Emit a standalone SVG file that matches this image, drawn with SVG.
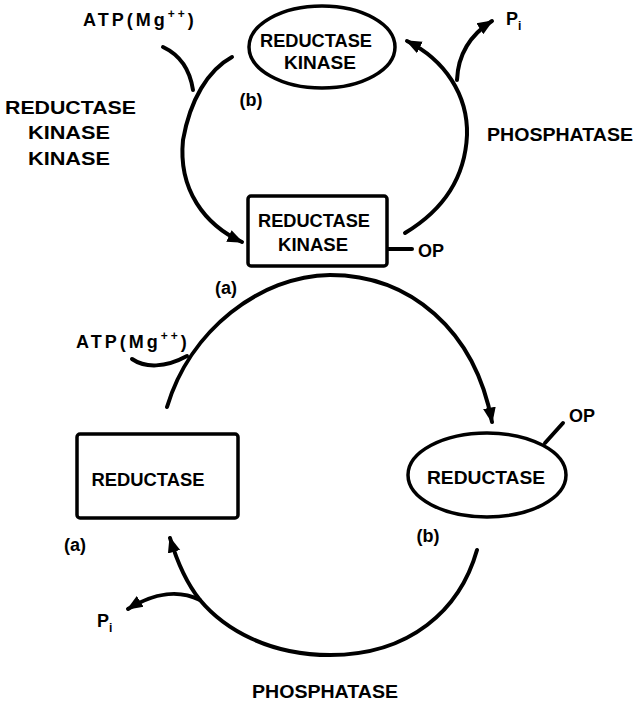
<svg xmlns="http://www.w3.org/2000/svg" width="639" height="703" viewBox="0 0 639 703">
<style>
.t{font-family:"Liberation Sans",Arial,sans-serif;font-weight:bold;font-size:18px;fill:#000}
.n{fill:#fff;stroke:#000;stroke-width:3.5}
.c{fill:none;stroke:#000;stroke-width:4;stroke-linecap:round}
</style>
<defs>
<marker id="ah" viewBox="0 0 10 10" refX="9" refY="5" markerWidth="4" markerHeight="4" orient="auto" markerUnits="strokeWidth">
<path d="M0,1 L10,5 L0,9 z" fill="#000"/>
</marker>
</defs>
<rect width="639" height="703" fill="#fff"/>
<g id="connectors">
<path class="c" d="M232,57 C208,70 190,100 183,140 C178,190 205,225 242,242" marker-end="url(#ah)"/>
<path class="c" d="M163,47 C180,55 190,70 193,90"/>
<path class="c" d="M405,233 C440,212 465,180 467,135 C468,95 445,60 407,41" marker-end="url(#ah)"/>
<path class="c" d="M457,80 C458,55 470,35 492,21" marker-end="url(#ah)"/>
<path class="c" d="M167,407 C190,330 260,276 330,275 C410,275 475,330 492,422" marker-end="url(#ah)"/>
<path class="c" d="M132,359 C145,368 165,368 187,356"/>
<path class="c" d="M477,550 C460,610 410,655 330,655 C270,655 225,630 200,600 C188,585 178,565 170,538" marker-end="url(#ah)"/>
<path class="c" d="M200,600 C180,590 155,592 128,609" marker-end="url(#ah)"/>
<line class="c" x1="387" y1="249" x2="412" y2="249"/>
<line class="c" x1="545" y1="443" x2="563" y2="423"/>
</g>
<g id="reductase-kinase-b">
<ellipse class="n" cx="322" cy="47" rx="73" ry="41"/>
<text class="t" x="316" y="47" text-anchor="middle" textLength="112" lengthAdjust="spacingAndGlyphs">REDUCTASE</text>
<text class="t" x="320" y="69" text-anchor="middle" textLength="72" lengthAdjust="spacingAndGlyphs">KINASE</text>
</g>
<g id="reductase-kinase-a">
<rect class="n" x="248" y="196" width="139" height="70" rx="3"/>
<text class="t" x="314" y="227" text-anchor="middle" textLength="112" lengthAdjust="spacingAndGlyphs">REDUCTASE</text>
<text class="t" x="313" y="251" text-anchor="middle" textLength="70" lengthAdjust="spacingAndGlyphs">KINASE</text>
</g>
<g id="reductase-a">
<rect class="n" x="77" y="434" width="161" height="84" rx="3"/>
<text class="t" x="148" y="486" text-anchor="middle" textLength="113" lengthAdjust="spacingAndGlyphs">REDUCTASE</text>
</g>
<g id="reductase-b">
<ellipse class="n" cx="487" cy="475" rx="79" ry="42"/>
<text class="t" x="486" y="484" text-anchor="middle" textLength="118" lengthAdjust="spacingAndGlyphs">REDUCTASE</text>
</g>
<g id="labels">
<text class="t" x="83" y="26" font-size="21" letter-spacing="3">ATP(Mg<tspan font-size="12" dy="-8">++</tspan><tspan dy="8">)</tspan></text>
<text class="t" x="251" y="106" text-anchor="middle" font-size="21">(b)</text>
<text class="t" x="5" y="114" textLength="131" lengthAdjust="spacingAndGlyphs" font-size="20">REDUCTASE</text>
<text class="t" x="28" y="139" textLength="82" lengthAdjust="spacingAndGlyphs" font-size="20">KINASE</text>
<text class="t" x="28" y="165" textLength="82" lengthAdjust="spacingAndGlyphs" font-size="20">KINASE</text>
<text class="t" x="506" y="25" font-size="21">P<tspan font-size="12" dy="5">i</tspan></text>
<text class="t" x="487" y="141" textLength="146" lengthAdjust="spacingAndGlyphs" font-size="20">PHOSPHATASE</text>
<text class="t" x="418" y="257" font-size="21">OP</text>
<text class="t" x="226" y="294" text-anchor="middle" font-size="21">(a)</text>
<text class="t" x="76" y="348" font-size="21" letter-spacing="3">ATP(Mg<tspan font-size="12" dy="-8">++</tspan><tspan dy="8">)</tspan></text>
<text class="t" x="569" y="422" font-size="21">OP</text>
<text class="t" x="75" y="551" text-anchor="middle" font-size="21">(a)</text>
<text class="t" x="428" y="542" text-anchor="middle" font-size="21">(b)</text>
<text class="t" x="97" y="627" font-size="21">P<tspan font-size="12" dy="5">i</tspan></text>
<text class="t" x="252" y="698" textLength="146" lengthAdjust="spacingAndGlyphs" font-size="20">PHOSPHATASE</text>
</g>
</svg>
